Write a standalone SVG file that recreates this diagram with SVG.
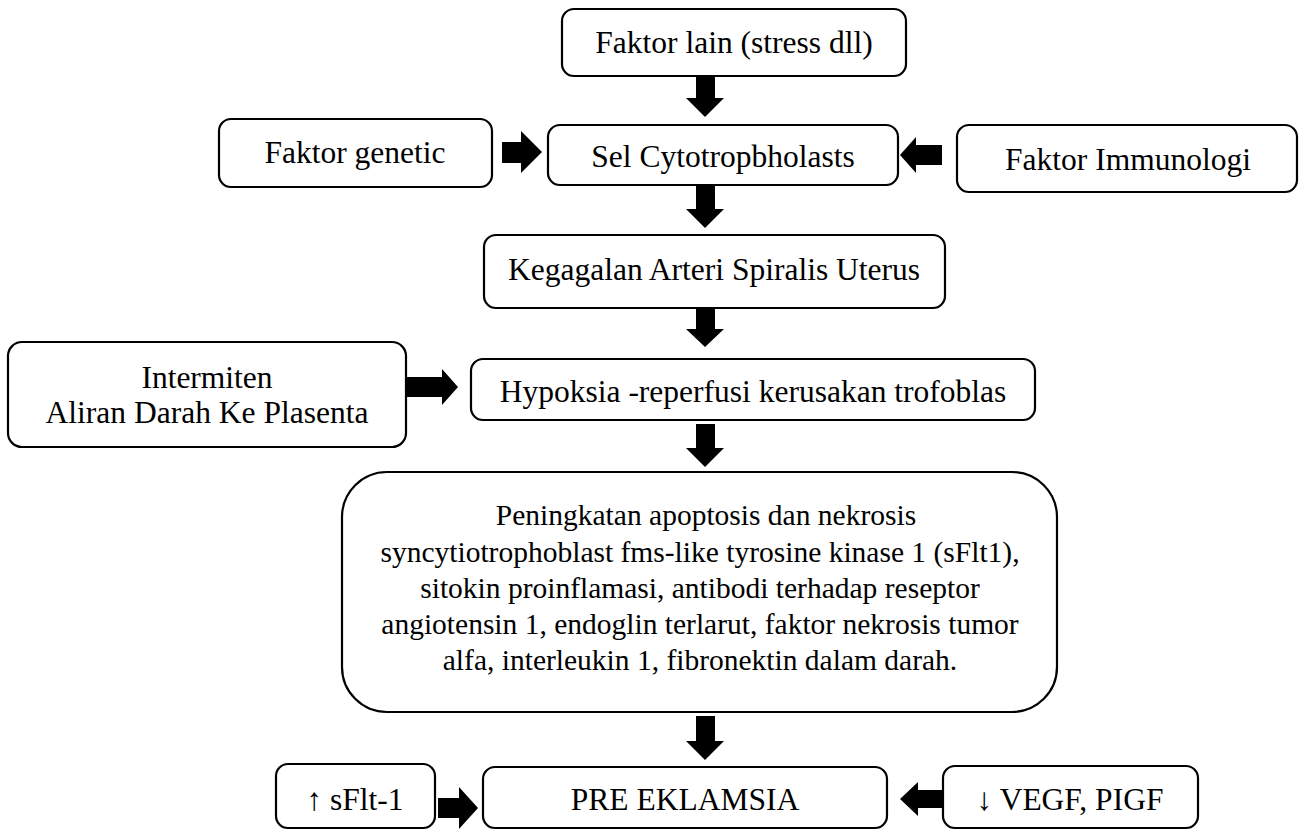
<svg xmlns="http://www.w3.org/2000/svg" width="1299" height="830" viewBox="0 0 1299 830">
<style>
.box{fill:#fff;stroke:#000;stroke-width:2.2}
.t{font-family:"Liberation Serif","Times New Roman",serif;font-size:31.5px;fill:#000;text-anchor:middle}
.tb{font-size:29.5px}
.arr{fill:#000;stroke:none}
</style>
<rect width="1299" height="830" fill="#fff"/>
<g id="n1"><rect class="box" x="562" y="9" width="344" height="67" rx="12"/><text class="t" x="734" y="53">Faktor lain (stress dll)</text></g>
<g id="n2"><rect class="box" x="548" y="125" width="350" height="60" rx="12"/><text class="t" x="723" y="167">Sel Cytotropbholasts</text></g>
<g id="n3"><rect class="box" x="219" y="119" width="273" height="68" rx="12"/><text class="t" x="355" y="163">Faktor genetic</text></g>
<g id="n4"><rect class="box" x="957" y="125" width="340" height="67" rx="12"/><text class="t" x="1128" y="170">Faktor Immunologi</text></g>
<g id="n5"><rect class="box" x="484" y="235" width="461" height="73" rx="12"/><text class="t" x="714" y="280">Kegagalan Arteri Spiralis Uterus</text></g>
<g id="n6"><rect class="box" x="8" y="342" width="398" height="105" rx="14"/><text class="t" x="207" y="388">Intermiten</text><text class="t" x="207" y="423">Aliran Darah Ke Plasenta</text></g>
<g id="n7"><rect class="box" x="471" y="359" width="564" height="61" rx="12"/><text class="t" x="753" y="402">Hypoksia -reperfusi kerusakan trofoblas</text></g>
<g id="n8"><rect class="box" x="342" y="472" width="715" height="240" rx="45"/>
<text class="t tb" x="706" y="525">Peningkatan apoptosis dan nekrosis</text>
<text class="t tb" x="700" y="562">syncytiotrophoblast fms-like tyrosine kinase 1 (sFlt1),</text>
<text class="t tb" x="700" y="598">sitokin proinflamasi, antibodi terhadap reseptor</text>
<text class="t tb" x="700" y="634">angiotensin 1, endoglin terlarut, faktor nekrosis tumor</text>
<text class="t tb" x="700" y="670">alfa, interleukin 1, fibronektin dalam darah.</text></g>
<g id="n9"><rect class="box" x="276" y="764" width="159" height="64" rx="12"/><text class="t" x="355" y="810">↑ sFlt-1</text></g>
<g id="n10"><rect class="box" x="483" y="767" width="404" height="61" rx="12"/><text class="t" x="685" y="810">PRE EKLAMSIA</text></g>
<g id="n11"><rect class="box" x="943" y="766" width="255" height="62" rx="12"/><text class="t" x="1070" y="810">↓ VEGF, PIGF</text></g>
<g id="connectors">
<polygon class="arr" points="696,77 715,77 715,98 724,98 705,117 686,98 696,98"/>
<polygon class="arr" points="502,142 521,142 521,131 542,152 521,173 521,163 502,163"/>
<polygon class="arr" points="942,145 916,145 916,137 900,155 916,173 916,165 942,165"/>
<polygon class="arr" points="696,186 715,186 715,209 724,209 705,228 686,209 696,209"/>
<polygon class="arr" points="696,309 715,309 715,329 724,329 705,347 686,329 696,329"/>
<polygon class="arr" points="406,377 442,377 442,369 458,387 442,405 442,397 406,397"/>
<polygon class="arr" points="696,424 715,424 715,448 724,448 705,467 686,448 696,448"/>
<polygon class="arr" points="696,716 715,716 715,741 724,741 705,760 686,741 696,741"/>
<polygon class="arr" points="438,798 459,798 459,787 478,808 459,829 459,818 438,818"/>
<polygon class="arr" points="943,790 918,790 918,782 900,799 918,816 918,808 943,808"/>
</g>
</svg>
